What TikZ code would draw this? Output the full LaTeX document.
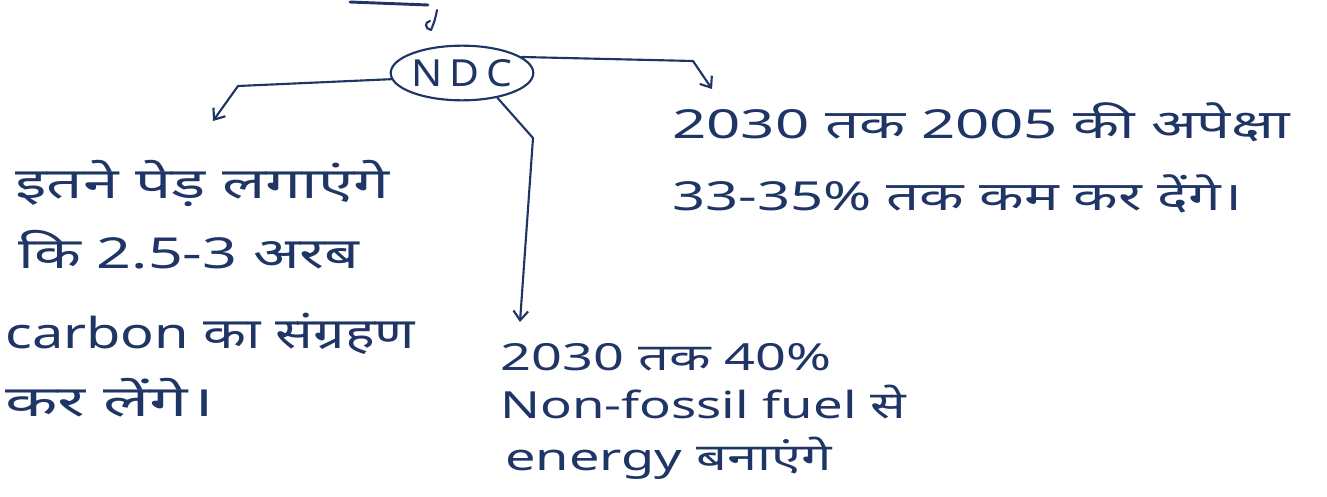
\documentclass[tikz,border=0pt]{standalone}
\usepackage{fontspec}
\setmainfont[Script=Devanagari]{Noto Sans}
\usetikzlibrary{shapes.geometric,arrows.meta}
\definecolor{ink}{HTML}{1F3566}
\newcommand{\wide}[2]{\scalebox{#1}[1]{#2}}
\tikzset{
  pen/.style={draw=ink,line width=1.6pt,line cap=round,line join=round},
  tip/.style={-{Straight Barb[length=7pt,width=11pt,line width=1.6pt]}},
  ln/.style={text=ink,anchor=base west,inner sep=0pt},
  rfont/.style={font=\fontsize{30}{36}\selectfont},
  lfont/.style={font=\fontsize{32}{38}\selectfont},
  bfont/.style={font=\fontsize{28}{34}\selectfont},
}
\begin{document}
\begin{tikzpicture}[x=0.75pt,y=-0.75pt]
\useasboundingbox (0,0) rectangle (1327,496);
% fragments at the top edge
\draw[pen,line width=2.2pt] (350,2) -- (428,5);
\draw[pen] (437,10) .. controls (435,20) .. (431,30) .. controls (425,29) and (424,22) .. (430,21);
% central node
\node[ellipse,pen,text=ink,minimum width=96pt,minimum height=41pt,inner sep=0pt,font=\fontsize{28}{32}\selectfont] (ndc) at (462,73) {\wide{1.1}{N\,D\,C}};
% connectors
\coordinate (lb) at (238,86);
\coordinate (rb) at (693,61);
\coordinate (bb) at (533,138);
\coordinate (lt) at (213,121);
\coordinate (rt) at (712,89);
\coordinate (bt) at (520,322);
\draw[pen,tip] (ndc.185) -- (lb) -- (lt);
\draw[pen,tip] (ndc.15) -- (rb) -- (rt);
\draw[pen,tip] (ndc.-35) -- (bb) -- (bt);
% right text
\node[ln,rfont] (r1) at (672,138) {\wide{1.5}{2030 तक 2005 की अपेक्षा}};
\node[ln,rfont] (r2) at (672,210) {\wide{1.45}{33-35\% तक कम कर देंगे।}};
% left text
\node[ln,lfont] (l1) at (15,198) {\wide{1.5}{इतने पेड़ लगाएंगे}};
\node[ln,lfont] (l2) at (18,268) {\wide{1.43}{कि 2.5-3 अरब}};
\node[ln,lfont] (l3) at (5,348) {\wide{1.31}{carbon का संग्रहण}};
\node[ln,lfont] (l4) at (5,416) {\wide{1.6}{कर लेंगे।}};
% bottom text
\node[ln,bfont] (b1) at (500,370) {\wide{1.45}{2030 तक 40\%}};
\node[ln,bfont] (b2) at (500,418) {\wide{1.41}{Non-fossil fuel से}};
\node[ln,bfont] (b3) at (505,470) {\wide{1.45}{energy बनाएंगे}};
\end{tikzpicture}
\end{document}
